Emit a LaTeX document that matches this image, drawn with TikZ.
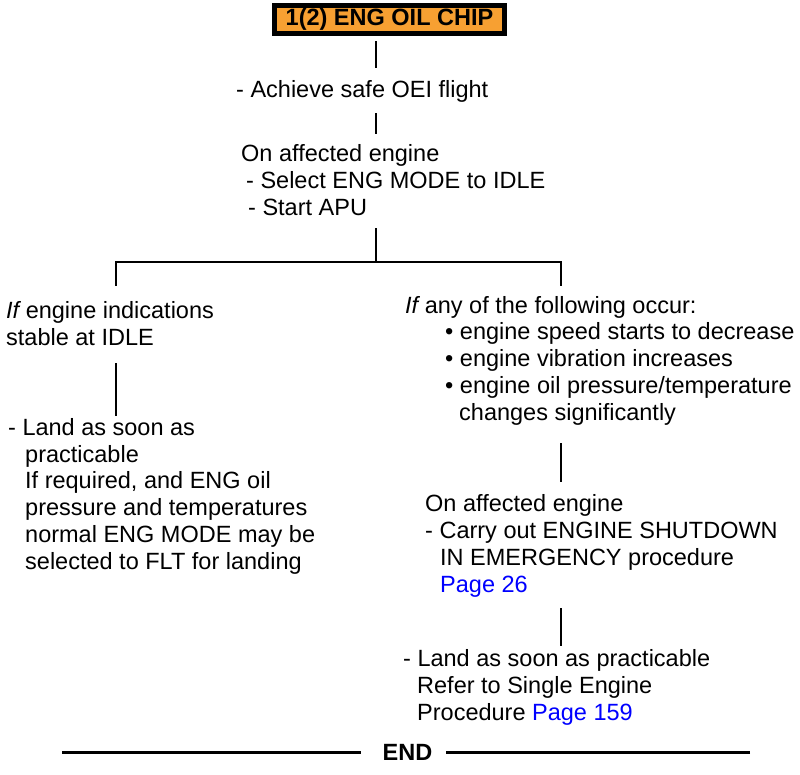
\documentclass[tikz,border=0pt]{standalone}
\usepackage{fontspec}
\setmainfont{Liberation Sans}
\usepackage{xcolor}
\definecolor{chiporange}{RGB}{247,160,50}
\definecolor{pagelink}{RGB}{0,0,255}
\newcommand{\pg}[1]{\textcolor{pagelink}{Page #1}}

\begin{document}
\begin{tikzpicture}[x=1pt,y=-1pt,
    txt/.style={anchor=base west, inner sep=0pt, align=left, font=\fontsize{23.5}{26.7}\selectfont},
    chip/.style={draw, line width=5pt, fill=chiporange, inner sep=0pt, minimum width=230pt, minimum height=28pt, font=\fontsize{23.5}{26.7}\selectfont\bfseries},
    link/.style 2 args={line width=1.7pt, shorten <=#1, shorten >=#2},
    endrule/.style={line width=3pt}]
    \useasboundingbox (0,0) rectangle (800,774);

    % multi-line texts sit on the baseline of their last line
    \node[chip] (chip) at (389.5,19.5) {1(2) ENG OIL CHIP};
    \node[txt] (achieve) at (236,97) {- Achieve safe OEI flight};
    \node[txt] (idle) at (241,215) {On affected engine\\\hspace*{5pt}- Select ENG MODE to IDLE\\\hspace*{7pt}- Start APU};

    % left branch
    \node[txt] (stable) at (6,345) {{\itshape If} engine indications\\stable at IDLE};
    \node[txt] (landleft) at (8,569) {- Land as soon as\\\hspace*{17pt}practicable\\\hspace*{17pt}If required, and ENG oil\\\hspace*{17pt}pressure and temperatures\\\hspace*{17pt}normal ENG MODE may be\\\hspace*{17pt}selected to FLT for landing};

    % right branch
    \node[txt] (anyof) at (405,420) {{\itshape If} any of the following occur:\\\hspace*{40pt}\textbullet\ engine speed starts to decrease\\\hspace*{40pt}\textbullet\ engine vibration increases\\\hspace*{40pt}\textbullet\ engine oil pressure/temperature\\\hspace*{54pt}changes significantly};
    \node[txt] (shutdown) at (425,592) {On affected engine\\- Carry out ENGINE SHUTDOWN\\\hspace*{15pt}IN EMERGENCY procedure\\\hspace*{15pt}\pg{26}};
    \node[txt] (landright) at (403,720) {- Land as soon as practicable\\\hspace*{14pt}Refer to Single Engine\\\hspace*{14pt}Procedure \pg{159}};

    \node[txt, anchor=base, font=\fontsize{23.5}{26.7}\selectfont\bfseries] (endmark) at (407.5,760) {END};

    \coordinate (spine) at (376,0);
    \coordinate (split) at (376,262);
    \coordinate (lbranch) at (116,0);
    \coordinate (rbranch) at (561,0);
    \coordinate (ruleL) at (62,752);
    \coordinate (ruleR) at (750,752);

    \draw[link={5pt}{12pt}] (chip.south -| spine) -- (achieve.north -| spine);
    \draw[link={11pt}{10.5pt}] (achieve.south -| spine) -- (idle.north -| spine);
    \draw[link={13pt}{0pt}] (idle.south -| spine) -- (split);
    \draw[link={0pt}{15pt}] (split) -| (stable.north -| lbranch);
    \draw[link={0pt}{10pt}] (split) -| (anyof.north -| rbranch);
    \draw[link={18pt}{2pt}] (stable.south -| lbranch) -- (landleft.north -| lbranch);
    \draw[link={18pt}{12.5pt}] (anyof.south -| rbranch) -- (shutdown.north -| rbranch);
    \draw[link={11pt}{3pt}] (shutdown.south -| rbranch) -- (landright.north -| rbranch);

    \draw[endrule, shorten >=21pt] (ruleL) -- (endmark.west |- ruleL);
    \draw[endrule, shorten >=13pt] (ruleR) -- (endmark.east |- ruleR);
\end{tikzpicture}
\end{document}
